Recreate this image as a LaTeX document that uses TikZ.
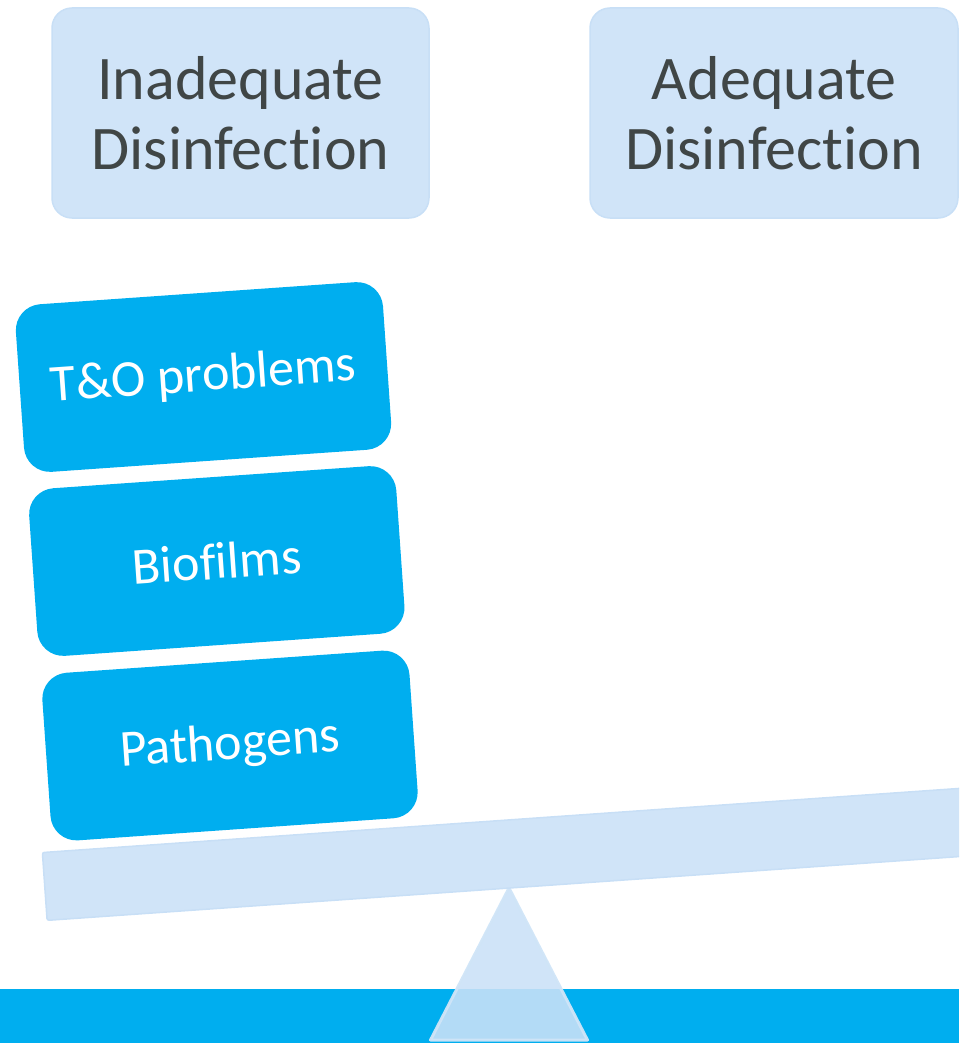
\documentclass[tikz,border=0pt]{standalone}
\usepackage{fontspec}
\setmainfont{Carlito}[Ligatures=NoCommon]
\definecolor{pale}{RGB}{208,228,248}
\definecolor{paleedge}{RGB}{200,223,246}
\definecolor{pivotfill}{RGB}{202,225,247}
\definecolor{pivotedge}{RGB}{208,229,248}
\definecolor{cyanblue}{RGB}{0,174,239}
\definecolor{darktext}{RGB}{64,70,70}
\begin{document}
\begin{tikzpicture}[x=1pt,y=-1pt,
  topbox/.style={draw=paleedge, line width=1.5pt, fill=pale, rounded corners=20pt,
    minimum height=210pt, inner sep=0pt, align=center, text=darktext,
    font=\fontsize{62}{70}\selectfont},
  load/.style={fill=cyanblue, rounded corners=26pt, minimum width=368pt,
    minimum height=168pt, inner sep=0pt, text=white,
    font=\fontsize{52}{60}\selectfont, rotate=4},
  beamstyle/.style={draw=paleedge, line width=1.5pt, fill=pale, rounded corners=2pt,
    minimum width=1000pt, minimum height=68pt, inner sep=0pt, rotate=4, anchor=west},
  pivotstyle/.style={draw=pivotedge, draw opacity=0.95, line width=3pt, line join=round,
    fill=pivotfill, fill opacity=0.886}]
\useasboundingbox (0,0) rectangle (959,1043);
\clip (0,0) rectangle (959,1043);

% ground strip
\fill[cyanblue] (0,989) rectangle (959,1043);

% column headings
\node[topbox, minimum width=377pt] (inadequate) at (240.5,113) {Inadequate\\Disinfection};
\node[topbox, minimum width=368pt] (adequate) at (774,113) {Adequate\\Disinfection};

% fulcrum
\coordinate (apex) at (509,888);
\coordinate (baseR) at (587.5,1040);
\coordinate (baseL) at (430.5,1040);
\draw[pivotstyle] (apex) -- (baseR) -- (baseL) -- cycle;

% tilted beam
\node[beamstyle] (beam) at (44,886.5) {};

% stacked loads on the low side
\node[load] (tno) at (203.5,377) {T\&O problems};
\node[load] (biofilms) at (216.8,561) {Biofilms};
\node[load] (pathogens) at (230,745.5) {Pathogens};
\end{tikzpicture}
\end{document}
